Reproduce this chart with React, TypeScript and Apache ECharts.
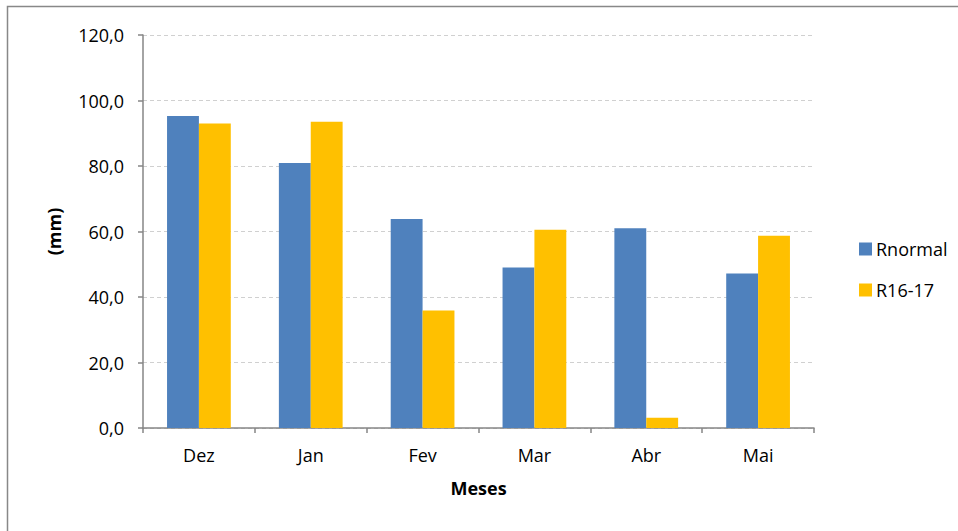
import React, { useEffect, useRef } from "react";
import * as echarts from "echarts";

const categories = ["Dez", "Jan", "Fev", "Mar", "Abr", "Mai"];
const rnormal = [95.3, 80.9, 63.8, 49.0, 61.0, 47.2];
const r1617 = [93.0, 93.5, 35.9, 60.5, 3.1, 58.7];
const seriesNames = ["Rnormal", "R16-17"];
const colors = ["#4F81BD", "#FFC000"];

const FONT = "'Open Sans', sans-serif";

export default function App() {
  const ref = useRef<HTMLDivElement>(null);
  useEffect(() => {
    if (!ref.current) return;
    const chart = echarts.init(ref.current, undefined, { renderer: "svg" });
    chart.setOption({
      animation: false,
      backgroundColor: "#fff",
      textStyle: { fontFamily: FONT },
      graphic: [
        {
          type: "rect",
          shape: { x: 7.5, y: 6.5, width: 1000, height: 600 },
          style: { fill: "none", stroke: "#888", lineWidth: 1.5 },
          silent: true,
        },
      ],
      grid: { left: 143, right: 144, top: 35, bottom: 103, containLabel: false },
      legend: {
        orient: "vertical",
        left: 854,
        top: 235,
        itemWidth: 13,
        itemHeight: 13,
        itemGap: 23,
        icon: "rect",
        textStyle: { fontSize: 18, color: "#000", fontFamily: FONT, padding: [0, 0, 0, -1] },
        data: seriesNames,
      },
      xAxis: {
        type: "category",
        data: categories,
        name: "Meses",
        nameLocation: "middle",
        nameGap: 51,
        nameTextStyle: { fontSize: 18, fontWeight: "bold", color: "#000", fontFamily: FONT },
        axisLine: { lineStyle: { color: "#868686", width: 1.5 } },
        axisTick: { show: true, length: 5, lineStyle: { color: "#868686", width: 1.5 } },
        axisLabel: { fontSize: 18, color: "#000", margin: 18, fontFamily: FONT },
      },
      yAxis: {
        type: "value",
        min: 0,
        max: 120,
        interval: 20,
        name: "(mm)",
        nameLocation: "middle",
        nameGap: 80,
        nameRotate: 90,
        nameTextStyle: { fontSize: 18, fontWeight: "bold", color: "#000", fontFamily: FONT },
        axisLine: { show: true, lineStyle: { color: "#868686", width: 1.5 } },
        axisTick: { show: true, length: 5, lineStyle: { color: "#868686", width: 1.5 } },
        axisLabel: {
          fontSize: 18,
          color: "#000",
          margin: 19,
          fontFamily: FONT,
          formatter: (v: number) => v.toFixed(1).replace(".", ","),
        },
        splitLine: { show: true, lineStyle: { color: "#D0D0D0", type: [4, 3], width: 1 } },
      },
      series: [
        {
          name: seriesNames[0],
          type: "bar",
          data: rnormal,
          itemStyle: { color: colors[0] },
          barGap: "0%",
          barCategoryGap: "43%",
        },
        {
          name: seriesNames[1],
          type: "bar",
          data: r1617,
          itemStyle: { color: colors[1] },
          barGap: "0%",
          barCategoryGap: "43%",
        },
      ],
    });
    return () => chart.dispose();
  }, []);
  return (
    <div
      ref={ref}
      style={{ position: "fixed", left: 0, top: 0, width: 958, height: 531 }}
    />
  );
}
